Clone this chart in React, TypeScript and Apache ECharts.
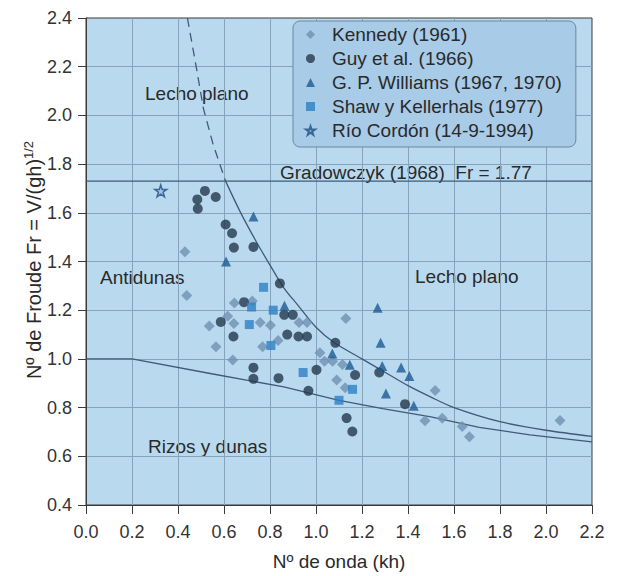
import React, { useEffect, useRef } from "react";
import * as echarts from "echarts";

// ---- data (kh, Fr) ----
const kennedy: number[][] = [
  [0.43, 1.44], [0.438, 1.26], [0.536, 1.135], [0.565, 1.05], [0.616, 1.175], [0.643, 1.145],
  [0.638, 0.995], [0.645, 1.23], [0.723, 1.238], [0.757, 1.15], [0.802, 1.138], [0.768, 1.05],
  [0.835, 1.076], [0.926, 1.15], [0.961, 1.15], [1.017, 1.025], [1.037, 0.99], [1.072, 0.99],
  [1.115, 0.977], [1.09, 0.913], [1.127, 0.882], [1.13, 1.166], [1.474, 0.746], [1.518, 0.87],
  [1.549, 0.756], [1.636, 0.722], [1.667, 0.68], [2.061, 0.747],
];
const guy: number[][] = [
  [0.484, 1.655], [0.486, 1.617], [0.517, 1.69], [0.564, 1.665], [0.607, 1.552], [0.635, 1.516],
  [0.643, 1.457], [0.728, 1.46], [0.843, 1.31], [0.687, 1.233], [0.862, 1.181], [0.899, 1.181],
  [0.586, 1.152], [0.641, 1.092], [0.875, 1.1], [0.924, 1.092], [0.961, 1.092], [1.084, 1.066],
  [1.002, 0.955], [0.728, 0.964], [0.728, 0.918], [0.837, 0.921], [0.967, 0.869], [1.17, 0.934],
  [1.275, 0.944], [1.387, 0.814], [1.133, 0.757], [1.158, 0.702],
];
const williams: number[][] = [
  [0.728, 1.585], [0.609, 1.4], [0.863, 1.218], [1.071, 1.022], [1.147, 0.976], [1.268, 1.21],
  [1.281, 1.066], [1.288, 0.971], [1.37, 0.965], [1.406, 0.93], [1.304, 0.858], [1.425, 0.808],
];
const shaw: number[][] = [
  [0.772, 1.294], [0.72, 1.213], [0.814, 1.2], [0.71, 1.141], [0.804, 1.055], [0.944, 0.944],
  [1.1, 0.83], [1.159, 0.875],
];
const rioCordon: number[][] = [[0.325, 1.69]];

const upperDashed: number[][] = [[0.441, 2.4], [0.481, 2.19], [0.51, 2.03], [0.553, 1.88], [0.607, 1.73]];
const upperSolid: number[][] = [
  [0.607, 1.73], [0.67, 1.605], [0.74, 1.482], [0.8, 1.385], [0.86, 1.292], [0.92, 1.222],
  [1.0, 1.13], [1.08, 1.066], [1.2, 1.0], [1.3, 0.945], [1.4, 0.89], [1.5, 0.843], [1.6, 0.8],
  [1.8, 0.742], [2.0, 0.707], [2.2, 0.682],
];
const lowerCurve: number[][] = [
  [0, 1.0], [0.2, 1.0], [0.546, 0.939], [0.86, 0.885], [1.1, 0.83], [1.29, 0.796], [1.5, 0.762],
  [1.71, 0.719], [1.93, 0.688], [2.2, 0.659],
];
const gradowczyk: number[][] = [[0, 1.73], [2.2, 1.73]];

const seriesNames = [
  "Kennedy (1961)",
  "Guy et al. (1966)",
  "G. P. Williams (1967, 1970)",
  "Shaw y Kellerhals (1977)",
  "Río Cordón (14-9-1994)",
];

const FONT = "'Liberation Sans', Arial, Helvetica, sans-serif";
const TXT = "#2a2a2a";
const CURVE = "#3e5b78";
const STAR = "path://M50,2 L61,36 L97,36 L68,57 L79,92 L50,71 L21,92 L32,57 L3,36 L39,36 Z";

export default function App() {
  const ref = useRef<HTMLDivElement>(null);
  useEffect(() => {
    document.body.style.margin = "0";
    const chart = echarts.init(ref.current!, null, { renderer: "svg" });
    const lineSeries = (data: number[][], dashed = false, smooth: boolean | number = false) => ({
      type: "line",
      data,
      symbol: "none",
      smooth,
      silent: true,
      lineStyle: { color: CURVE, width: 1.3, type: dashed ? [9, 6] : "solid" },
      z: 2,
    });
    chart.setOption({
      animation: false,
      backgroundColor: "#ffffff",
      grid: {
        left: 86, top: 18, width: 506, height: 489,
        show: true, backgroundColor: "#b9d9ef", borderColor: "#3a3a3a", borderWidth: 1,
      },
      xAxis: {
        type: "value", min: 0, max: 2.2, interval: 0.2,
        name: "Nº de onda (kh)", nameLocation: "middle", nameGap: 47,
        nameTextStyle: { fontSize: 19, color: TXT, fontFamily: FONT },
        axisLine: { show: true, onZero: false, lineStyle: { color: "#3a3a3a", width: 1 } },
        axisTick: { show: true, length: 9, lineStyle: { color: "#3a3a3a" } },
        axisLabel: { fontSize: 18, color: "#333", fontFamily: FONT, margin: 18, formatter: (v: number) => v.toFixed(1) },
        splitLine: { show: true, showMinLine: false, showMaxLine: false, lineStyle: { color: "#86a3bb", width: 1 } },
      },
      yAxis: {
        type: "value", min: 0.4, max: 2.4, interval: 0.2,
        axisLine: { show: true, onZero: false, lineStyle: { color: "#3a3a3a", width: 1 } },
        axisTick: { show: true, length: 8, lineStyle: { color: "#3a3a3a" } },
        axisLabel: { fontSize: 18, color: "#333", fontFamily: FONT, margin: 14, formatter: (v: number) => v.toFixed(1) },
        splitLine: { show: true, showMinLine: false, showMaxLine: false, lineStyle: { color: "#86a3bb", width: 1 } },
      },
      legend: {
        data: seriesNames,
        orient: "vertical",
        left: 293, top: 21,
        padding: [4, 14, 7, 12],
        itemWidth: 9, itemHeight: 9, itemGap: 5,
        backgroundColor: "#a8cbe8", borderColor: "#6d879f", borderWidth: 1, borderRadius: 7,
        selectedMode: false,
        formatter: (name: string) => `{p| }{t|${name}}`,
        textStyle: {
          rich: {
            p: { width: 12 },
            t: { fontSize: 19, color: TXT, fontFamily: FONT, lineHeight: 20 },
          },
        },
      },
      graphic: [
        { type: "text", x: 145, y: 93, style: { text: "Lecho plano", fontSize: 19, fontFamily: FONT, fill: TXT, align: "left", verticalAlign: "middle" } },
        { type: "text", x: 100, y: 277, style: { text: "Antidunas", fontSize: 19, fontFamily: FONT, fill: TXT, align: "left", verticalAlign: "middle" } },
        { type: "text", x: 415, y: 276, style: { text: "Lecho plano", fontSize: 19, fontFamily: FONT, fill: TXT, align: "left", verticalAlign: "middle" } },
        { type: "text", x: 148, y: 446, style: { text: "Rizos y dunas", fontSize: 19, fontFamily: FONT, fill: TXT, align: "left", verticalAlign: "middle" } },
        { type: "text", x: 280, y: 172, style: { text: "Gradowczyk (1968)  Fr = 1.77", fontSize: 19, fontFamily: FONT, fill: TXT, align: "left", verticalAlign: "middle" } },
        {
          type: "text", x: 34, y: 260, rotation: Math.PI / 2,
          style: {
            text: "{a|Nº de Froude Fr = V/(gh)}{s|1/2}",
            align: "center", verticalAlign: "middle",
            rich: {
              a: { fontSize: 20, fontFamily: FONT, fill: TXT, lineHeight: 24 },
              s: { fontSize: 13, fontFamily: FONT, fill: TXT, verticalAlign: "top", lineHeight: 13 },
            },
          },
        },
      ],
      series: [
        lineSeries(gradowczyk),
        lineSeries(upperDashed, true),
        lineSeries(upperSolid, false, 0.3),
        lineSeries(lowerCurve),
        {
          name: seriesNames[0], type: "scatter", data: kennedy, symbol: "diamond", symbolSize: 11,
          itemStyle: { color: "#6f91b1" }, z: 3,
        },
        {
          name: seriesNames[1], type: "scatter", data: guy, symbol: "circle", symbolSize: 10,
          itemStyle: { color: "#24384c" }, z: 4,
        },
        {
          name: seriesNames[2], type: "scatter", data: williams, symbol: "triangle", symbolSize: 10,
          itemStyle: { color: "#1e5a93" }, z: 4,
        },
        {
          name: seriesNames[3], type: "scatter", data: shaw, symbol: "rect", symbolSize: 9,
          itemStyle: { color: "#2d80c6" }, z: 4,
        },
        {
          name: seriesNames[4], type: "scatter", data: rioCordon, symbol: STAR, symbolSize: 12,
          itemStyle: { color: "#9ec2e2", borderColor: "#1d4f86", borderWidth: 1.5 }, z: 4,
        },
      ],
    });
    return () => chart.dispose();
  }, []);
  return <div ref={ref} style={{ position: "absolute", left: 0, top: 0, width: 618, height: 576 }} />;
}
